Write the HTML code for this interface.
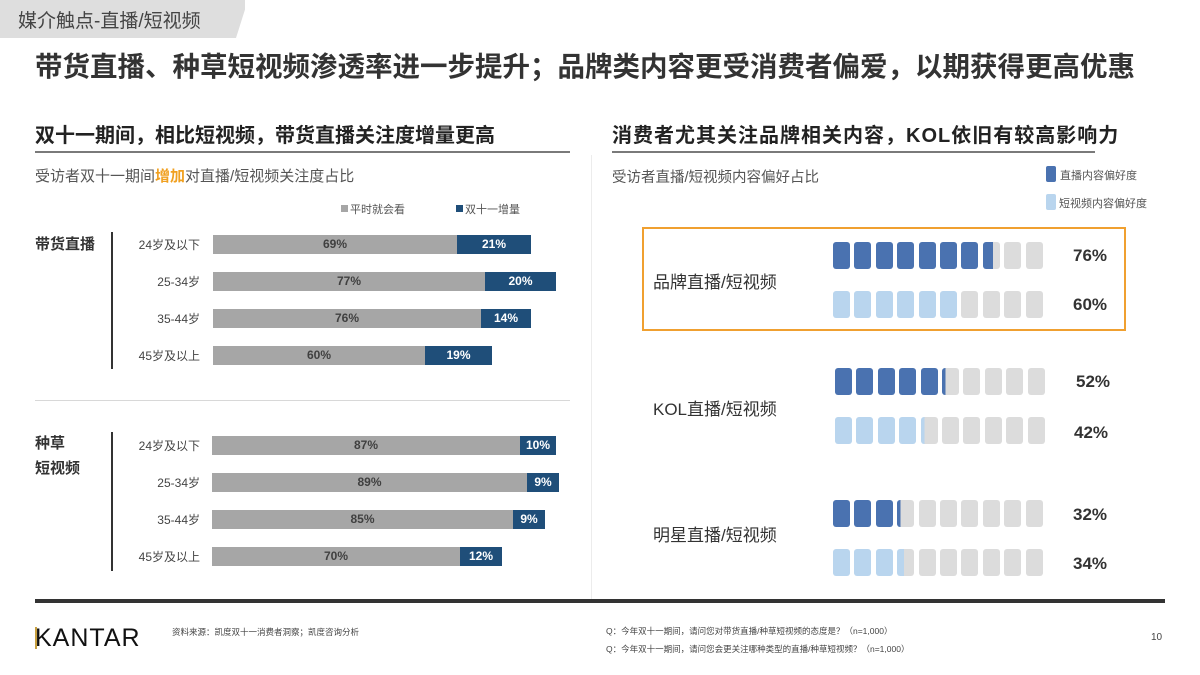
<!DOCTYPE html>
<html><head><meta charset="utf-8">
<style>
*{margin:0;padding:0;box-sizing:border-box}
body{width:1200px;height:675px;background:#fff;position:relative;overflow:hidden;font-family:"Liberation Sans","Noto Sans CJK SC",sans-serif;color:#333}
.a{position:absolute;white-space:nowrap}
.b{font-weight:bold}
.bar{position:absolute;height:19px;font-size:12px;font-weight:bold;text-align:center;line-height:19px}
.g{background:#a6a6a6;color:#404040}
.d{background:#1f4e79;color:#fff}
.age{position:absolute;width:120px;text-align:right;font-size:12px;color:#444;left:80px}
.blk{position:absolute;width:17px;height:27px;border-radius:3px;background:#dcdcdc}
.pct{position:absolute;left:1073px;font-size:17px;font-weight:bold;color:#333}
</style></head><body>
<div class="a" style="left:0;top:0;width:245px;height:38px;background:#dedede;clip-path:polygon(0 0,100% 0,100% 25%,236px 100%,0 100%)"></div>
<div class="a" style="left:18px;top:6px;font-size:19px;color:#444">媒介触点-直播/短视频</div>
<div class="a b" style="left:35px;top:44px;font-size:27.5px;color:#333">带货直播、种草短视频渗透率进一步提升；品牌类内容更受消费者偏爱，以期获得更高优惠</div>

<div class="a b" style="left:35px;top:119px;font-size:20px;color:#222">双十一期间，相比短视频，带货直播关注度增量更高</div>
<div class="a" style="left:35px;top:151px;width:535px;height:2px;background:#7a7a7a"></div>
<div class="a" style="left:35px;top:165px;font-size:15px;color:#555">受访者双十一期间<span style="color:#f0a020;font-weight:bold">增加</span>对直播/短视频关注度占比</div>
<div class="a" style="left:341px;top:205px;width:7px;height:7px;background:#a6a6a6"></div>
<div class="a" style="left:350px;top:201px;font-size:11px;color:#555">平时就会看</div>
<div class="a" style="left:456px;top:205px;width:7px;height:7px;background:#1f4e79"></div>
<div class="a" style="left:465px;top:201px;font-size:11px;color:#555">双十一增量</div>

<div class="a b" style="left:35px;top:233px;font-size:15px;color:#333">带货直播</div>
<div class="a" style="left:111px;top:232px;width:2px;height:137px;background:#333"></div>
<div class="age" style="top:236px">24岁及以下</div>
<div class="bar g" style="left:213px;top:235px;width:244px">69%</div><div class="bar d" style="left:457px;top:235px;width:74px">21%</div>
<div class="age" style="top:273px">25-34岁</div>
<div class="bar g" style="left:213px;top:272px;width:272px">77%</div><div class="bar d" style="left:485px;top:272px;width:71px">20%</div>
<div class="age" style="top:310px">35-44岁</div>
<div class="bar g" style="left:213px;top:309px;width:268px">76%</div><div class="bar d" style="left:481px;top:309px;width:50px">14%</div>
<div class="age" style="top:347px">45岁及以上</div>
<div class="bar g" style="left:213px;top:346px;width:212px">60%</div><div class="bar d" style="left:425px;top:346px;width:67px">19%</div>

<div class="a" style="left:35px;top:400px;width:535px;height:1px;background:#d8d8d8"></div>

<div class="a b" style="left:35px;top:431px;font-size:15px;color:#333;line-height:25px">种草<br>短视频</div>
<div class="a" style="left:111px;top:432px;width:2px;height:139px;background:#333"></div>
<div class="age" style="top:437px">24岁及以下</div>
<div class="bar g" style="left:212px;top:436px;width:308px">87%</div><div class="bar d" style="left:520px;top:436px;width:36px">10%</div>
<div class="age" style="top:474px">25-34岁</div>
<div class="bar g" style="left:212px;top:473px;width:315px">89%</div><div class="bar d" style="left:527px;top:473px;width:32px">9%</div>
<div class="age" style="top:511px">35-44岁</div>
<div class="bar g" style="left:212px;top:510px;width:301px">85%</div><div class="bar d" style="left:513px;top:510px;width:32px">9%</div>
<div class="age" style="top:548px">45岁及以上</div>
<div class="bar g" style="left:212px;top:547px;width:248px">70%</div><div class="bar d" style="left:460px;top:547px;width:42px">12%</div>

<div class="a" style="left:591px;top:155px;width:1px;height:445px;background:#ececec"></div>

<div class="a b" style="left:612px;top:119px;font-size:20px;color:#222;letter-spacing:1px">消费者尤其关注品牌相关内容，KOL依旧有较高影响力</div>
<div class="a" style="left:612px;top:151px;width:483px;height:2px;background:#7a7a7a"></div>
<div class="a" style="left:612px;top:166px;font-size:14.5px;color:#555">受访者直播/短视频内容偏好占比</div>
<div class="a" style="left:1046px;top:166px;width:10px;height:16px;background:#4a72b0;border-radius:2px"></div>
<div class="a" style="left:1060px;top:167px;font-size:11px;color:#555">直播内容偏好度</div>
<div class="a" style="left:1046px;top:194px;width:10px;height:16px;background:#b9d5ee;border-radius:2px"></div>
<div class="a" style="left:1059px;top:195px;font-size:11px;color:#555">短视频内容偏好度</div>

<div class="a" style="left:642px;top:227px;width:484px;height:104px;border:2px solid #f0a030"></div>
<div class="a" style="left:653px;top:268px;font-size:17px;color:#333">品牌直播/短视频</div>
<div class="a" style="left:653px;top:395px;font-size:17px;color:#333">KOL直播/短视频</div>
<div class="a" style="left:653px;top:521px;font-size:17px;color:#333">明星直播/短视频</div>

<div id="blocks"></div>
<div class="pct" style="top:246px">76%</div>
<div class="pct" style="top:295px">60%</div>
<div class="pct" style="left:1076px;top:372px">52%</div>
<div class="pct" style="left:1074px;top:423px">42%</div>
<div class="pct" style="top:505px">32%</div>
<div class="pct" style="top:554px">34%</div>

<div class="a" style="left:35px;top:599px;width:1130px;height:4px;background:#333"></div>
<div class="a" style="left:35px;top:624px;font-size:25px;color:#111;letter-spacing:1px">KANTAR</div>
<div class="a" style="left:35px;top:627px;width:2px;height:22px;background:#c8a040"></div>
<div class="a" style="left:172px;top:626px;font-size:8.5px;color:#444">资料来源：凯度双十一消费者洞察；凯度咨询分析</div>
<div class="a" style="left:606px;top:625px;font-size:8.5px;color:#444">Q：今年双十一期间，请问您对带货直播/种草短视频的态度是？（n=1,000）</div>
<div class="a" style="left:606px;top:643px;font-size:8.5px;color:#444">Q：今年双十一期间，请问您会更关注哪种类型的直播/种草短视频？（n=1,000）</div>
<div class="a" style="left:1151px;top:632px;font-size:10px;color:#444">10</div>

<script>
var rows=[[833,242,7.6,'#4a72b0'],[833,291,6,'#b9d5ee'],[835,368,5.2,'#4a72b0'],[835,417,4.2,'#b9d5ee'],[833,500,3.2,'#4a72b0'],[833,549,3.4,'#b9d5ee']];
var h='';
rows.forEach(function(r){for(var i=0;i<10;i++){var f=Math.max(0,Math.min(1,r[2]-i));var bg=f>=1?r[3]:f>0?'linear-gradient(90deg,'+r[3]+' '+(f*100)+'%,#dcdcdc '+(f*100)+'%)':'#dcdcdc';h+='<div class="blk" style="left:'+(r[0]+i*21.4)+'px;top:'+r[1]+'px;background:'+bg+'"></div>';}});
document.getElementById('blocks').innerHTML=h;
</script>
</body></html>
